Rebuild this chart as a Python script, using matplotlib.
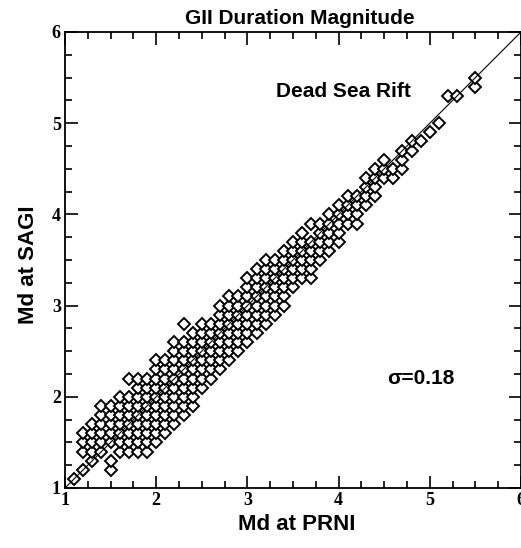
import numpy as np
import matplotlib.pyplot as plt
from matplotlib.ticker import MultipleLocator

# Md at PRNI (x) -> list of Md at SAGI values (y), 0.1 grid
prni = [1.1, 1.2, 1.3, 1.4, 1.5, 1.6, 1.7, 1.8, 1.9, 2.0,
        2.1, 2.2, 2.3, 2.4, 2.5, 2.6, 2.7, 2.8, 2.9, 3.0,
        3.1, 3.2, 3.3, 3.4, 3.5, 3.6, 3.7, 3.8, 3.9, 4.0,
        4.1, 4.2, 4.3, 4.4, 4.5, 4.6, 4.7, 4.8, 4.9, 5.0,
        5.1, 5.2, 5.3, 5.5]
sagi = [
    [1.1],
    [1.2, 1.4, 1.5, 1.6],
    [1.3, 1.4, 1.5, 1.6, 1.7],
    [1.4, 1.5, 1.6, 1.7, 1.8, 1.9],
    [1.2, 1.3, 1.5, 1.6, 1.7, 1.8, 1.9],
    [1.4, 1.5, 1.6, 1.7, 1.8, 1.9, 2.0],
    [1.4, 1.5, 1.6, 1.7, 1.8, 1.9, 2.0, 2.2],
    [1.4, 1.5, 1.6, 1.7, 1.8, 1.9, 2.0, 2.1, 2.2],
    [1.4, 1.5, 1.6, 1.7, 1.8, 1.9, 2.0, 2.1, 2.2],
    [1.5, 1.6, 1.7, 1.8, 1.9, 2.0, 2.1, 2.2, 2.3, 2.4],
    [1.6, 1.7, 1.8, 1.9, 2.0, 2.1, 2.2, 2.3, 2.4],
    [1.7, 1.8, 1.9, 2.0, 2.1, 2.2, 2.3, 2.4, 2.5, 2.6],
    [1.8, 1.9, 2.0, 2.1, 2.2, 2.3, 2.4, 2.5, 2.6, 2.8],
    [1.9, 2.0, 2.1, 2.2, 2.3, 2.4, 2.5, 2.6, 2.7],
    [2.1, 2.2, 2.3, 2.4, 2.5, 2.6, 2.7, 2.8],
    [2.2, 2.3, 2.4, 2.5, 2.6, 2.7, 2.8],
    [2.3, 2.4, 2.5, 2.6, 2.7, 2.8, 2.9, 3.0],
    [2.4, 2.5, 2.6, 2.7, 2.8, 2.9, 3.0, 3.1],
    [2.5, 2.6, 2.7, 2.8, 2.9, 3.0, 3.1],
    [2.6, 2.7, 2.8, 2.9, 3.0, 3.1, 3.2, 3.3],
    [2.7, 2.8, 2.9, 3.0, 3.1, 3.2, 3.3, 3.4],
    [2.8, 2.9, 3.0, 3.1, 3.2, 3.3, 3.4, 3.5],
    [2.9, 3.0, 3.1, 3.2, 3.3, 3.4, 3.5],
    [3.0, 3.1, 3.2, 3.3, 3.4, 3.5, 3.6],
    [3.2, 3.3, 3.4, 3.5, 3.6, 3.7],
    [3.3, 3.4, 3.5, 3.6, 3.7, 3.8],
    [3.3, 3.4, 3.5, 3.6, 3.7, 3.9],
    [3.5, 3.6, 3.7, 3.8, 3.9],
    [3.6, 3.7, 3.8, 3.9, 4.0],
    [3.7, 3.8, 3.9, 4.0, 4.1],
    [3.9, 4.0, 4.1, 4.2],
    [3.9, 4.0, 4.1, 4.2],
    [4.1, 4.2, 4.3, 4.4],
    [4.2, 4.3, 4.4, 4.5],
    [4.4, 4.5, 4.6],
    [4.4, 4.5],
    [4.5, 4.6, 4.7],
    [4.7, 4.8],
    [4.8],
    [4.9],
    [5.0],
    [5.3],
    [5.3],
    [5.4, 5.5],
]
sigma = 0.18

xs = []
ys = []
for x, col in zip(prni, sagi):
    for y in col:
        xs.append(x)
        ys.append(y)

fig = plt.figure(figsize=(5.21, 5.48), dpi=100)
ax = fig.add_axes([65/521, 60/548, 456/521, 456/548])

ax.plot(xs, ys, linestyle='none', marker='D', markersize=6.2,
        markerfacecolor='white', markeredgecolor='black', markeredgewidth=1.4)
ax.plot([1, 6], [1, 6], color='black', lw=0.8, zorder=3)

ax.set_xlim(1, 6)
ax.set_ylim(1, 6)
ax.xaxis.set_major_locator(MultipleLocator(1))
ax.yaxis.set_major_locator(MultipleLocator(1))
ax.xaxis.set_minor_locator(MultipleLocator(0.25))
ax.yaxis.set_minor_locator(MultipleLocator(0.25))
ax.tick_params(which='both', direction='in', top=True, right=True, width=1.2)
ax.tick_params(which='major', length=9, pad=3)
ax.tick_params(which='minor', length=5)
for s in ax.spines.values():
    s.set_linewidth(1.3)

for lab in ax.get_xticklabels() + ax.get_yticklabels():
    lab.set_fontfamily('Liberation Serif')
    lab.set_fontweight('bold')
    lab.set_fontsize(13)

fig.text(297/521, 1 - 525/548, 'Md at PRNI', ha='center', va='center',
         fontfamily='Liberation Sans', fontweight='bold', fontsize=16)
fig.text(28/521, 1 - 265/548, 'Md at SAGI', ha='center', va='center',
         rotation=90, fontfamily='Liberation Sans', fontweight='bold', fontsize=16)
fig.text(300/521, 1 - 18/548, 'GII Duration Magnitude', ha='center', va='center',
         fontfamily='Liberation Sans', fontweight='bold', fontsize=15)

ax.text(4.05, 5.35, 'Dead Sea Rift', ha='center', va='center',
        fontfamily='Liberation Sans', fontweight='bold', fontsize=15)
ax.text(4.9, 2.2, '\u03c3=%.2f' % sigma, ha='center', va='center',
        fontfamily='Liberation Sans', fontweight='bold', fontsize=15)

fig.savefig('out.png', dpi=100)
